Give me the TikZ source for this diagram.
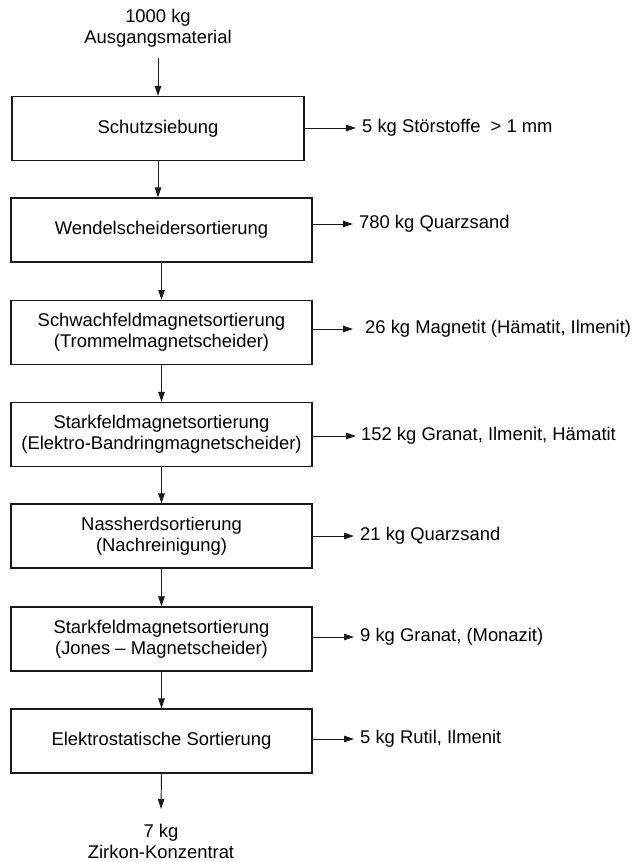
\documentclass[tikz,border=0pt]{standalone}
\usepackage{fontspec}
\setmainfont{Liberation Sans}
\usetikzlibrary{arrows.meta}
\definecolor{linec}{HTML}{1A1A1A}
\begin{document}
\begin{tikzpicture}[x=1pt,y=-1pt,
  font=\fontsize{18.4}{21}\selectfont,
  stepbox/.style={draw=linec, line width=1.2pt, fill=white, inner sep=0pt, align=center, minimum height=64pt},
  narrowbox/.style={stepbox, minimum width=292pt},
  widebox/.style={stepbox, minimum width=301pt},
  flow/.style={draw=linec, line width=0.95pt, -{Triangle[length=10pt,width=6.5pt]}},
  outlbl/.style={anchor=west, inner sep=0pt},
  endlbl/.style={align=center, inner sep=0pt}
  ]
\useasboundingbox (0,0) rectangle (632,862);

% input / output texts
\node[endlbl] (in) at (158,28.4) {1000 kg\\Ausgangsmaterial};
\coordinate (inend) at (158,58);
\node[endlbl] (out) at (161,841.5) {7 kg\\Zirkon-Konzentrat};
\coordinate (outend) at (161,809);

% process boxes
\node[narrowbox] (b1) at (158,128.5) {Schutzsiebung};
\node[widebox] (b2) at (161.5,230) {Wendelscheidersortierung};
\node[widebox] (b3) at (161.5,332.5) {Schwachfeldmagnetsortierung\\(Trommelmagnetscheider)};
\node[widebox] (b4) at (161.5,434.5) {Starkfeldmagnetsortierung\\(Elektro-Bandringmagnetscheider)};
\node[widebox] (b5) at (161.5,536) {Nassherdsortierung\\(Nachreinigung)};
\node[widebox] (b6) at (161.5,639) {Starkfeldmagnetsortierung\\(Jones -- Magnetscheider)};
\node[widebox] (b7) at (161.5,741) {Elektrostatische Sortierung};

% side products
\node[outlbl] (o1) at (362,128) {5 kg Störstoffe\ \ > 1 mm};
\node[outlbl] (o2) at (359,224) {780 kg Quarzsand};
\node[outlbl] (o3) at (365,329) {26 kg Magnetit (Hämatit, Ilmenit)};
\node[outlbl] (o4) at (361,436) {152 kg Granat, Ilmenit, Hämatit};
\node[outlbl] (o5) at (360,536) {21 kg Quarzsand};
\node[outlbl] (o6) at (360,637) {9 kg Granat, (Monazit)};
\node[outlbl] (o7) at (360,739) {5 kg Rutil, Ilmenit};

% main flow
\draw[flow] (inend) -- (b1.north);
\draw[flow] (b1.south) -- (b1.south |- b2.north);
\draw[flow] (b2.south) -- (b3.north);
\draw[flow] (b3.south) -- (b4.north);
\draw[flow] (b4.south) -- (b5.north);
\draw[flow] (b5.south) -- (b6.north);
\draw[flow] (b6.south) -- (b7.north);
\draw[flow] (b7.south) -- (outend);

% side flows
\draw[flow] (o1.west -| b1.east) -- ([xshift=-6pt]o1.west);
\draw[flow] (o2.west -| b2.east) -- ([xshift=-6pt]o2.west);
\draw[flow] (o3.west -| b3.east) -- ([xshift=-12pt]o3.west);
\draw[flow] (o4.west -| b4.east) -- ([xshift=-5pt]o4.west);
\draw[flow] (o5.west -| b5.east) -- ([xshift=-6pt]o5.west);
\draw[flow] (o6.west -| b6.east) -- ([xshift=-6pt]o6.west);
\draw[flow] (o7.west -| b7.east) -- ([xshift=-6pt]o7.west);
\end{tikzpicture}
\end{document}
